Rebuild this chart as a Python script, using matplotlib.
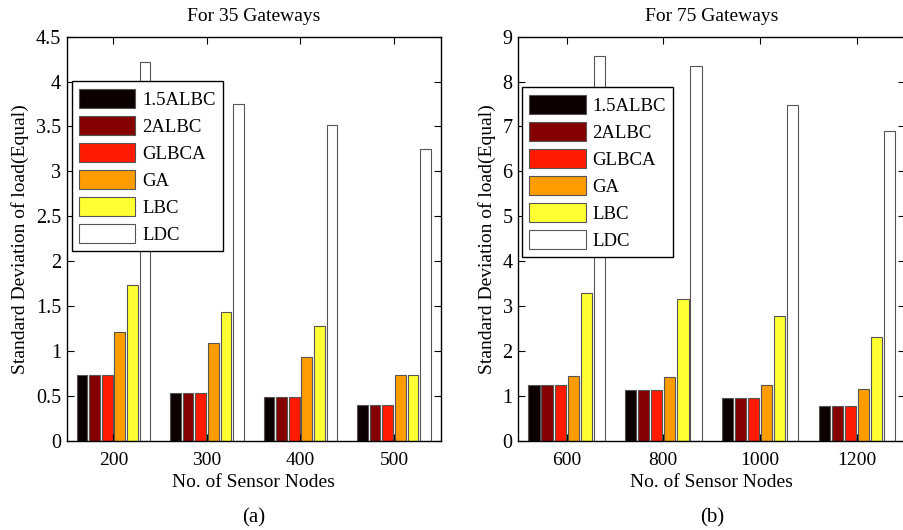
import numpy as np
import matplotlib
matplotlib.use('Agg')
import matplotlib.pyplot as plt

plt.rcParams['font.family'] = ['Liberation Serif', 'DejaVu Serif']
plt.rcParams['mathtext.fontset'] = 'stix'

# данные
series = ['1.5ALBC', '2ALBC', 'GLBCA', 'GA', 'LBC', 'LDC']
colors = ['#0d0000', '#850000', '#ff1a00', '#ff9c00', '#ffff33', '#ffffff']

nodes_a = ['200', '300', '400', '500']
vals_a = {
    '1.5ALBC': [0.73, 0.53, 0.49, 0.40],
    '2ALBC':   [0.73, 0.53, 0.49, 0.40],
    'GLBCA':   [0.73, 0.53, 0.49, 0.40],
    'GA':      [1.21, 1.09, 0.93, 0.73],
    'LBC':     [1.73, 1.43, 1.28, 0.73],
    'LDC':     [4.22, 3.75, 3.52, 3.25],
}

nodes_b = ['600', '800', '1000', '1200']
vals_b = {
    '1.5ALBC': [1.25, 1.12, 0.95, 0.78],
    '2ALBC':   [1.25, 1.12, 0.95, 0.78],
    'GLBCA':   [1.25, 1.12, 0.95, 0.78],
    'GA':      [1.45, 1.42, 1.25, 1.15],
    'LBC':     [3.28, 3.15, 2.77, 2.31],
    'LDC':     [8.56, 8.35, 7.47, 6.90],
}

fs = 14


def draw(ax, labels, vals, ymax, yticks, title, letter, leg_anchor):
    x = np.arange(1, len(labels) + 1)
    step = 0.135
    for i, s in enumerate(series):
        ax.bar(x + (i - 2.5) * step, vals[s], width=0.115, color=colors[i],
               edgecolor='#555555', linewidth=0.8, label=s)
    ax.set_xlim(0.5, len(labels) + 0.5)
    ax.set_ylim(0, ymax)
    ax.set_xticks(x)
    ax.set_xticklabels(labels, fontsize=fs)
    ax.set_yticks(yticks)
    ax.set_yticklabels(['%g' % t for t in yticks], fontsize=fs + 0.5)
    ax.tick_params(direction='in', top=True, right=True, length=5, width=0.8)
    ax.tick_params(axis='x', pad=8)
    ax.tick_params(axis='y', pad=4)
    for sp in ax.spines.values():
        sp.set_linewidth(1.0)
    ax.set_title(title, fontsize=fs, pad=11)
    ax.set_xlabel('No. of Sensor Nodes', fontsize=fs, labelpad=4)
    ax.set_ylabel('Standard Deviation of load(Equal)', fontsize=fs, labelpad=5)
    ax.text(0.5, -0.19, letter, transform=ax.transAxes, ha='center', va='center', fontsize=fs + 1)
    leg = ax.legend(loc='upper left', bbox_to_anchor=leg_anchor, borderaxespad=0,
                    fontsize=13.5, handlelength=3.0, handleheight=1.2, labelspacing=0.38,
                    handletextpad=0.35, borderpad=0.4, fancybox=False, framealpha=1,
                    edgecolor='black')
    leg.get_frame().set_linewidth(1.0)


fig = plt.figure(figsize=(9.04, 5.30), dpi=100)
ax1 = fig.add_axes([0.0738, 0.1685, 0.4137, 0.7623])
ax2 = fig.add_axes([0.5733, 0.1685, 0.4280, 0.7623])

draw(ax1, nodes_a, vals_a, 4.5, np.arange(0, 4.51, 0.5), 'For 35 Gateways', '(a)', (0.0134, 0.890))
draw(ax2, nodes_b, vals_b, 9, np.arange(0, 10, 1), 'For 75 Gateways', '(b)', (0.0096, 0.875))

fig.savefig('out.png', dpi=100)
